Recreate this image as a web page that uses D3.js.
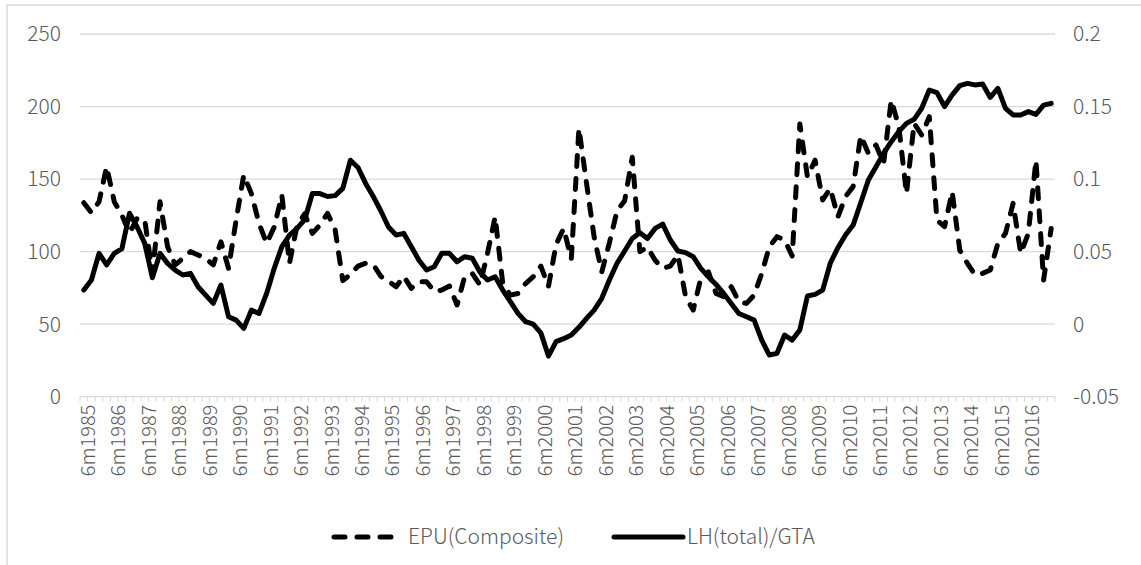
<!DOCTYPE html>
<html><head><meta charset="utf-8">
<script src="https://cdn.jsdelivr.net/npm/d3@7"></script>
<style>
body{margin:0;background:#fff;}
text{font-family:"Noto Sans CJK SC","Noto Sans",sans-serif;font-weight:300;fill:#595959;}
</style></head>
<body><svg id="c" width="1141" height="565"></svg>
<script>
// Quarterly categories, 6m1985 .. 3m2017 (labels shown every 4th category)
const months = ["6m","9m","12m","3m"];
const categories = [];
for (let k = 0; k < 128; k++) {
  const m = months[k % 4];
  categories.push(m + (m === "3m" ? (1985 + Math.floor(k / 4) + 1) : (1985 + Math.floor(k / 4))));
}
const epu = [133.7,126.8,134.4,158.5,134.4,125.2,112.6,123,121.8,85,
134.4,103.4,90.8,95.4,100,97.7,95.4,90.8,106.8,88.5,
121.8,152.8,140,119.5,105.7,117,139,92,118,126,
112.6,118.3,126.4,115,80,84.3,90,92,91,83,
79.6,75.8,83,74.7,79.3,79.3,72.4,73.5,76.3,63.2,
82.7,85,77,98.8,124,78,70,71.2,78,82.7,
90,76,105,116,95,185,147,110,86,106,
128,135,165,100,103,94,88.5,90,97.7,69,
59.7,81.6,86,71.2,69,75.8,65.5,64.3,70,85,
103.4,110.3,108,97,188,151.6,163,135.6,143.6,124,
137.9,144.8,180,167.7,173.5,160.8,204.5,186.1,140,188.4,
180.4,193,121.8,117.2,141.3,101,91.9,83.9,85,87.3,
105.7,112.6,133.3,98.8,112.6,163,80.4,116];
const lhGta = [0.0235,0.0304,0.0488,0.0408,0.0488,0.052,0.0764,0.067,0.0557,0.032,
0.0488,0.0419,0.0373,0.0339,0.035,0.0258,0.02,0.0143,0.027,0.0051,
0.0028,-0.0029,0.0097,0.0074,0.0212,0.0385,0.0534,0.0614,0.066,0.072,
0.09,0.09,0.088,0.0886,0.0936,0.113,0.108,0.097,0.088,0.078,
0.067,0.0614,0.0626,0.0534,0.044,0.0373,0.0396,0.0488,0.0488,0.043,
0.0465,0.0454,0.036,0.0304,0.0327,0.0235,0.0155,0.0074,0.0017,0.0,
-0.006,-0.022,-0.012,-0.010,-0.0075,-0.0022,0.004,0.0097,0.0178,0.0304,
0.042,0.0504,0.059,0.063,0.059,0.066,0.069,0.058,0.0504,0.0493,
0.0465,0.0385,0.0327,0.0274,0.0212,0.0143,0.0074,0.0051,0.0028,-0.011,
-0.0213,-0.0201,-0.0075,-0.011,-0.004,0.0194,0.0205,0.0235,0.042,0.0527,
0.0614,0.0683,0.0837,0.0994,0.1085,0.1177,0.1258,0.1327,0.1384,0.1412,
0.1488,0.1614,0.1596,0.15,0.158,0.1644,0.166,0.1649,0.1655,0.1563,
0.1625,0.1488,0.1442,0.1442,0.1465,0.1446,0.151,0.1522];
const leftTicks = [0,50,100,150,200,250];
const rightTicks = [-0.05,0,0.05,0.1,0.15,0.2];
const seriesNames = ["EPU(Composite)","LH(total)/GTA"];

const svg = d3.select("#c");
const L = 80, R = 1055, T = 34, B = 396.7;

// outer chart border
svg.append("rect").attr("x",7).attr("y",5).attr("width",1200).attr("height",600)
  .attr("fill","none").attr("stroke","#d9d9d9").attr("stroke-width",1.5);

const x = d3.scaleBand().domain(categories).range([L,R]).padding(0);
const cx = d => x(d) + x.bandwidth()/2;
const yL = d3.scaleLinear().domain([0,250]).range([B,T]);
const yR = d3.scaleLinear().domain([-0.05,0.2]).range([B,T]);

// gridlines
svg.append("g").selectAll("line").data(leftTicks).join("line")
  .attr("x1",L).attr("x2",R).attr("y1",d=>yL(d)).attr("y2",d=>yL(d))
  .attr("stroke","#d9d9d9").attr("stroke-width",1.3);

// x axis ticks (between categories)
const bounds = categories.map(c => x(c)).concat([R]);
svg.append("g").selectAll("line").data(bounds).join("line")
  .attr("x1",d=>d).attr("x2",d=>d).attr("y1",B).attr("y2",B+5)
  .attr("stroke","#d9d9d9").attr("stroke-width",1);

// left axis labels
svg.append("g").selectAll("text").data(leftTicks).join("text")
  .attr("x",61).attr("y",d=>yL(d)).attr("dy","0.35em").attr("text-anchor","end")
  .attr("font-size",21).text(d=>d3.format("")(d));
// right axis labels
svg.append("g").selectAll("text").data(rightTicks).join("text")
  .attr("x",1073).attr("y",d=>yR(d)).attr("dy","0.35em").attr("text-anchor","start")
  .attr("font-size",21).text(d=>d === 0 ? "0" : (d < 0 ? "-" + String(Math.abs(d)) : String(d)));

// x labels every 4th category
const shown = categories.filter((c,i)=> i % 4 === 0);
svg.append("g").selectAll("text").data(shown).join("text")
  .attr("transform",d=>`translate(${cx(d)+4},${B+8}) rotate(-90)`)
  .attr("text-anchor","end").attr("dy","0.35em").attr("font-size",20).text(d=>d);

// lines
const epuLine = d3.line().x((d,i)=>cx(categories[i])).y(d=>yL(d));
const lhLine = d3.line().x((d,i)=>cx(categories[i])).y(d=>yR(d));
svg.append("path").datum(epu).attr("d",epuLine).attr("fill","none")
  .attr("stroke","#000").attr("stroke-width",5).attr("stroke-dasharray","11,12")
  .attr("stroke-linecap","round").attr("stroke-linejoin","round");
svg.append("path").datum(lhGta).attr("d",lhLine).attr("fill","none")
  .attr("stroke","#000").attr("stroke-width",5)
  .attr("stroke-linecap","round").attr("stroke-linejoin","round");

// legend
const lg = svg.append("g");
lg.append("line").attr("x1",334).attr("x2",393).attr("y1",537).attr("y2",537)
  .attr("stroke","#000").attr("stroke-width",5).attr("stroke-dasharray","11,12").attr("stroke-linecap","round");
lg.append("text").attr("x",408).attr("y",537).attr("dy","0.35em").attr("font-size",21).text(seriesNames[0]);
lg.append("line").attr("x1",614).attr("x2",683).attr("y1",537).attr("y2",537)
  .attr("stroke","#000").attr("stroke-width",5).attr("stroke-linecap","round");
lg.append("text").attr("x",687).attr("y",537).attr("dy","0.35em").attr("font-size",21).text(seriesNames[1]);
</script></body></html>
